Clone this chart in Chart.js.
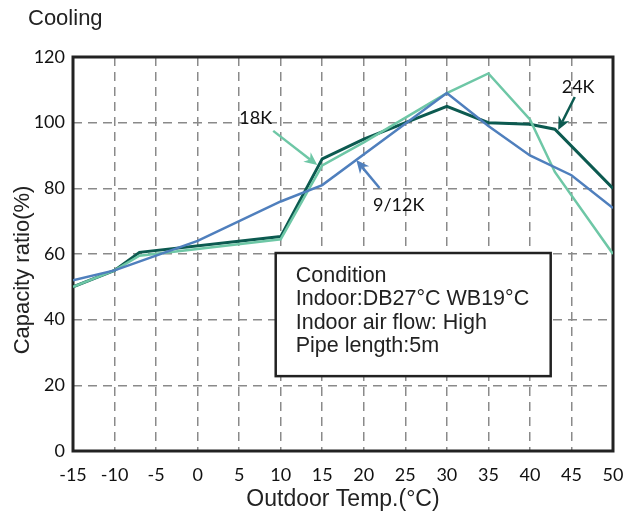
<!DOCTYPE html>
<html>
<head>
<meta charset="utf-8">
<script src="https://cdn.jsdelivr.net/npm/chart.js@4/dist/chart.umd.min.js"></script>
<style>
  html, body { margin: 0; padding: 0; background: #fff; overflow: hidden; }
  #wrap { width: 624px; height: 521px; position: relative; }
</style>
</head>
<body>
<div id="wrap"><canvas id="chart"></canvas></div>
<script>
// series data
var blueTemps = [-15, -10, 0, 10, 15, 30, 35, 40, 45, 50];
var blueRatio = [52, 55, 64, 76, 81, 109, 99, 90, 84, 74];

var lightTemps = [-15, -10, -7, 10, 15, 20, 30, 35, 40, 43, 50];
var lightRatio = [50, 55, 59.5, 64.5, 87, 94, 109, 115, 101, 85, 60];

var darkTemps = [-15, -10, -7, 10, 15, 20, 30, 35, 40, 43, 50];
var darkRatio = [50, 55, 60.5, 65.3, 89, 95, 105, 100, 99.5, 98, 80];

var xTicks = [-15, -10, -5, 0, 5, 10, 15, 20, 25, 30, 35, 40, 45, 50];
var yTicks = [0, 20, 40, 60, 80, 100, 120];

var conditionLines = ["Condition", "Indoor:DB27°C WB19°C", "Indoor air flow: High", "Pipe length:5m"];

// arrow labels, in data units: text pos, arrow tail, arrow head
var labels = [
  { text: "18K",   tx: 7.0,  ty: 101.4, x1: 9.1,  y1: 97.5,  x2: 14.4, y2: 87.1, color: "#6ec7a6" },
  { text: "9/12K", tx: 24.2, ty: 74.9,  x1: 21.9, y1: 80.1,  x2: 19.1, y2: 88.6, color: "#4f7fbd" },
  { text: "24K",   tx: 45.8, ty: 110.8, x1: 45.4, y1: 107.8, x2: 43.4, y2: 97.8, color: "#0c5a50" }
];

var FONT = "'Liberation Sans', Arial, sans-serif";
var NUMFONT = "Lato, 'Open Sans', sans-serif";

function pts(xs, ys) {
  return xs.map(function(x, i) { return { x: x, y: ys[i] }; });
}

function drawArrow(ctx, x1, y1, x2, y2, color) {
  var ang = Math.atan2(y2 - y1, x2 - x1);
  var len = 13, wid = 6;
  ctx.save();
  ctx.strokeStyle = color;
  ctx.fillStyle = color;
  ctx.lineWidth = 2.5;
  ctx.beginPath();
  ctx.moveTo(x1, y1);
  ctx.lineTo(x2 - Math.cos(ang) * len * 0.7, y2 - Math.sin(ang) * len * 0.7);
  ctx.stroke();
  ctx.beginPath();
  ctx.moveTo(x2, y2);
  ctx.lineTo(x2 - Math.cos(ang) * len - Math.sin(ang) * wid, y2 - Math.sin(ang) * len + Math.cos(ang) * wid);
  ctx.lineTo(x2 - Math.cos(ang) * len * 0.7, y2 - Math.sin(ang) * len * 0.7);
  ctx.lineTo(x2 - Math.cos(ang) * len + Math.sin(ang) * wid, y2 - Math.sin(ang) * len - Math.cos(ang) * wid);
  ctx.closePath();
  ctx.fill();
  ctx.restore();
}

var extras = {
  id: 'extras',
  beforeDraw: function(chart) {
    var ctx = chart.ctx;
    ctx.save();
    ctx.fillStyle = '#fff';
    ctx.fillRect(0, 0, chart.width, chart.height);
    ctx.fillStyle = '#222';
    ctx.font = '22px ' + FONT;
    ctx.textBaseline = 'middle';
    ctx.fillText('Cooling', 28, 19);
    // y axis title
    ctx.translate(23, 270);
    ctx.rotate(-Math.PI / 2);
    ctx.textAlign = 'center';
    ctx.fillText('Capacity ratio(%)', 0, 0);
    ctx.restore();
  },
  beforeDatasetsDraw: function(chart) {
    var a = chart.chartArea, ctx = chart.ctx;
    ctx.save();
    ctx.strokeStyle = '#222';
    ctx.lineWidth = 3;
    ctx.strokeRect(a.left, a.top, a.right - a.left, a.bottom - a.top);
    ctx.restore();
  },
  afterDatasetsDraw: function(chart) {
    var ctx = chart.ctx;
    var xs = chart.scales.x, ys = chart.scales.y;
    // condition box
    var bl = xs.getPixelForValue(9.4), br = xs.getPixelForValue(42.5);
    var bt = ys.getPixelForValue(60.3), bb = ys.getPixelForValue(22.8);
    ctx.save();
    ctx.fillStyle = '#fff';
    ctx.fillRect(bl, bt, br - bl, bb - bt);
    ctx.strokeStyle = '#222';
    ctx.lineWidth = 2.5;
    ctx.strokeRect(bl, bt, br - bl, bb - bt);
    ctx.fillStyle = '#222';
    ctx.font = '21.5px ' + FONT;
    ctx.textBaseline = 'middle';
    conditionLines.forEach(function(t, i) {
      ctx.fillText(t, bl + 20, bt + 23 + i * 23.3);
    });
    // arrow labels
    ctx.font = '18px ' + NUMFONT;
    ctx.textAlign = 'center';
    labels.forEach(function(l) {
      ctx.fillStyle = '#111';
      ctx.fillText(l.text, xs.getPixelForValue(l.tx), ys.getPixelForValue(l.ty));
      drawArrow(ctx, xs.getPixelForValue(l.x1), ys.getPixelForValue(l.y1),
                xs.getPixelForValue(l.x2), ys.getPixelForValue(l.y2), l.color);
    });
    ctx.restore();
  }
};

var config = {
  type: 'line',
  data: {
    datasets: [
      { label: '9/12K', data: pts(blueTemps, blueRatio), borderColor: '#4f7fbd', borderWidth: 2.5 },
      { label: '18K', data: pts(lightTemps, lightRatio), borderColor: '#6ec7a6', borderWidth: 2.5 },
      { label: '24K', data: pts(darkTemps, darkRatio), borderColor: '#0c5a50', borderWidth: 3 }
    ]
  },
  options: {
    responsive: true,
    maintainAspectRatio: false,
    animation: false,
    layout: { padding: { top: 57, right: 11, left: 0, bottom: 0 } },
    elements: { point: { radius: 0 }, line: { tension: 0, fill: false } },
    plugins: { legend: { display: false }, tooltip: { enabled: false } },
    scales: {
      x: {
        type: 'linear', min: -15, max: 50,
        afterBuildTicks: function(s) { s.ticks = xTicks.map(function(v) { return { value: v }; }); },
        afterFit: function(s) { s.height = 70; s.paddingRight = 0; s.paddingLeft = 0; },
        ticks: { color: '#111', font: { size: 18, family: NUMFONT }, padding: 13, maxRotation: 0, autoSkip: false },
        grid: { color: '#8a8a8a', lineWidth: 1.5, drawTicks: false },
        border: { display: false, dash: [9, 6] },
        title: { display: true, text: 'Outdoor Temp.(°C)', color: '#222', font: { size: 23, family: FONT }, padding: { top: 0, bottom: 8 } }
      },
      y: {
        min: 0, max: 120,
        afterBuildTicks: function(s) { s.ticks = yTicks.map(function(v) { return { value: v }; }); },
        afterFit: function(s) { s.width = 73; },
        ticks: { color: '#111', font: { size: 18, family: NUMFONT }, padding: 8 },
        grid: { color: '#8a8a8a', lineWidth: 1.5, drawTicks: false },
        border: { display: false, dash: [9, 6] },
        title: { display: false }
      }
    }
  },
  plugins: [extras]
};

var ctx = document.getElementById('chart');
window.myChart = new Chart(ctx, config);
</script>
</body>
</html>
